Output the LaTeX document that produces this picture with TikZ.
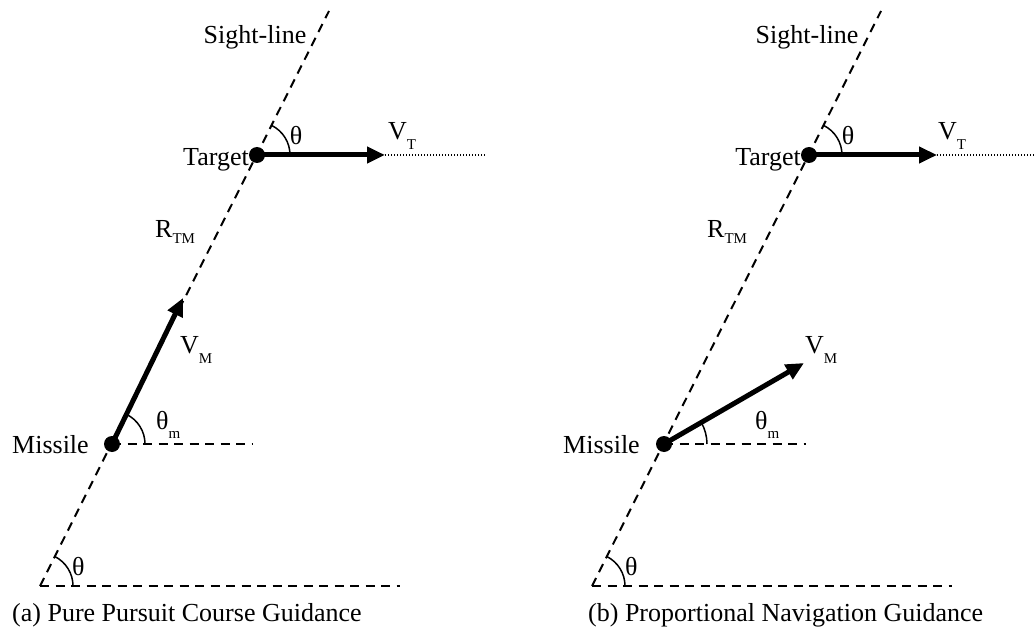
\documentclass[tikz,border=0pt]{standalone}
\usepackage{fontspec}
\setmainfont{Liberation Serif}
\usetikzlibrary{arrows.meta}
\newcommand\lowsub[1]{\raisebox{-0.9ex}{\fontsize{15}{15}\selectfont #1}}
\newcommand\rsub[1]{\raisebox{-0.55ex}{\fontsize{15}{15}\selectfont #1}}
\newcommand\msub[1]{\raisebox{-0.7ex}{\fontsize{15}{15}\selectfont #1}}
\begin{document}
\begin{tikzpicture}[x=1pt,y=1pt,
 guide/.style={line width=2pt, dash pattern=on 9pt off 6.5pt},
 vec/.style={line width=5pt, -{Triangle[length=18pt,width=16pt]}},
 dotline/.style={line width=1.2pt, dash pattern=on 1.2pt off 1.8pt},
 arcline/.style={line width=1.5pt},
 lbl/.style={font=\fontsize{26}{30}\selectfont, inner sep=0pt},
 body/.style={circle, fill=black, inner sep=0pt, minimum size=16pt},
]
\useasboundingbox (0,0) rectangle (1036,633);
% ---------------- left panel (a) ----------------
\coordinate (O1) at (40,47);
\coordinate (S1) at (329,622);
\coordinate (H1) at (400,47);
\coordinate (MH1) at (253,189);
\coordinate (VM1) at (183,335);
\coordinate (VT1) at (385,478);
\coordinate (VD1) at (485,478);
\draw[guide] (O1) -- (S1);
\draw[guide] (O1) -- (H1);
\node[body] (M1) at (112,189) {};
\node[body] (T1) at (257,478) {};
\draw[guide] (M1.center) -- (MH1);
\draw[vec] (M1.center) -- (VM1);
\draw[vec] (T1.center) -- (VT1);
\draw[dotline] (VT1) -- (VD1);
\draw[arcline] ([xshift=33pt]O1) arc[start angle=0,end angle=63.3,radius=33pt];
\draw[arcline] ([xshift=33pt]T1.center) arc[start angle=0,end angle=63.3,radius=33pt];
\draw[arcline] ([xshift=33pt]M1.center) arc[start angle=0,end angle=64,radius=33pt];
\node[lbl] (sl1) at (255,596) {Sight-line};
\node[lbl] (th1) at (296,497) {θ};
\node[lbl,anchor=west] (vt1) at (388,497) {V\lowsub{T}};
\node[lbl,anchor=base east] (tg1) at (249,467) {Target};
\node[lbl,anchor=west] (rt1) at (155,401) {R\rsub{TM}};
\node[lbl,anchor=west] (vm1) at (180,283) {V\lowsub{M}};
\node[lbl,anchor=west] (tm1) at (156,208) {θ\msub{m}};
\node[lbl,anchor=base west] (ms1) at (12,180) {Missile};
\node[lbl,anchor=west] (tb1) at (72,66) {θ};
\node[lbl,anchor=base west] (cap1) at (12,12) {(a) Pure Pursuit Course Guidance};
% ---------------- right panel (b) ----------------
\coordinate (O2) at (592,47);
\coordinate (S2) at (881,622);
\coordinate (H2) at (952,47);
\coordinate (MH2) at (806,189);
\coordinate (VM2) at (804,270);
\coordinate (VT2) at (937,478);
\coordinate (VD2) at (1036,478);
\draw[guide] (O2) -- (S2);
\draw[guide] (O2) -- (H2);
\node[body] (M2) at (664,189) {};
\node[body] (T2) at (809,478) {};
\draw[guide] (M2.center) -- (MH2);
\draw[vec] (M2.center) -- (VM2);
\draw[vec] (T2.center) -- (VT2);
\draw[dotline] (VT2) -- (VD2);
\draw[arcline] ([xshift=33pt]O2) arc[start angle=0,end angle=63.3,radius=33pt];
\draw[arcline] ([xshift=33pt]T2.center) arc[start angle=0,end angle=63.3,radius=33pt];
\draw[arcline] ([xshift=43pt]M2.center) arc[start angle=0,end angle=30.2,radius=43pt];
\node[lbl] (sl2) at (807,596) {Sight-line};
\node[lbl] (th2) at (848,497) {θ};
\node[lbl,anchor=west] (vt2) at (938,497) {V\lowsub{T}};
\node[lbl,anchor=base east] (tg2) at (801,467) {Target};
\node[lbl,anchor=west] (rt2) at (707,401) {R\rsub{TM}};
\node[lbl,anchor=west] (vm2) at (805,283) {V\lowsub{M}};
\node[lbl,anchor=west] (tm2) at (755,208) {θ\msub{m}};
\node[lbl,anchor=base west] (ms2) at (563,180) {Missile};
\node[lbl,anchor=west] (tb2) at (625,66) {θ};
\node[lbl,anchor=base west] (cap2) at (588,12) {(b) Proportional Navigation Guidance};
\end{tikzpicture}
\end{document}
